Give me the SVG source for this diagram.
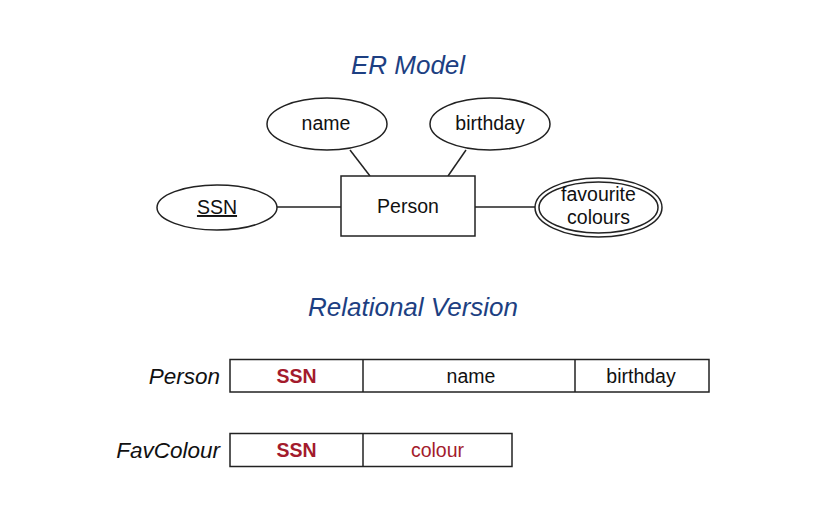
<svg xmlns="http://www.w3.org/2000/svg" width="818" height="508" viewBox="0 0 818 508">
<style>
.shape{fill:#fff;stroke:#222;stroke-width:1.5}
.conn line{stroke:#222;stroke-width:1.5}
.t{font-family:"Liberation Sans",Arial,sans-serif;font-size:19.5px;fill:#111;text-anchor:middle}
.title{font-family:"Liberation Sans",Arial,sans-serif;font-size:26px;font-style:italic;fill:#1d3f82;text-anchor:middle}
.rel{font-family:"Liberation Sans",Arial,sans-serif;font-size:22.5px;font-style:italic;fill:#111;text-anchor:end}
.key{font-weight:bold;fill:#a31b2c}
.red{fill:#a31b2c}
</style>
<rect width="818" height="508" fill="#fff"/>
<text class="title" x="408" y="74">ER Model</text>
<g class="conn">
<line x1="350" y1="150" x2="370" y2="176"/>
<line x1="466" y1="150" x2="448" y2="176"/>
<line x1="277" y1="207" x2="341" y2="207"/>
<line x1="475" y1="207" x2="535" y2="207"/>
</g>
<g id="name">
<ellipse class="shape" cx="327" cy="124" rx="60" ry="26"/>
<text class="t" x="326" y="130">name</text>
</g>
<g id="birthday">
<ellipse class="shape" cx="490" cy="124" rx="60" ry="26"/>
<text class="t" x="490" y="130">birthday</text>
</g>
<g id="person">
<rect class="shape" x="341" y="176" width="134" height="60"/>
<text class="t" x="408" y="213">Person</text>
</g>
<g id="ssn">
<ellipse class="shape" cx="217" cy="207.5" rx="60" ry="22.5"/>
<text class="t" x="217" y="214" text-decoration="underline">SSN</text>
</g>
<g id="favourite">
<ellipse class="shape" cx="598.5" cy="207.5" rx="63.5" ry="29.5"/>
<ellipse class="shape" cx="598.5" cy="207.5" rx="59.5" ry="25.5"/>
<text class="t" x="598.5" y="201" font-size="18.5">favourite</text>
<text class="t" x="598.5" y="224" font-size="18.5">colours</text>
</g>
<text class="title" x="413" y="316">Relational Version</text>
<g id="person-table">
<text class="rel" x="220" y="384">Person</text>
<rect class="shape" x="230" y="359.5" width="479" height="32.5"/>
<line x1="363" y1="359.5" x2="363" y2="392" stroke="#222" stroke-width="1.5"/>
<line x1="575" y1="359.5" x2="575" y2="392" stroke="#222" stroke-width="1.5"/>
<text class="t key" x="296.5" y="383">SSN</text>
<text class="t" x="471" y="383">name</text>
<text class="t" x="641" y="383">birthday</text>
</g>
<g id="favcolour-table">
<text class="rel" x="220" y="458">FavColour</text>
<rect class="shape" x="230" y="433.5" width="282" height="33"/>
<line x1="363" y1="433.5" x2="363" y2="466.5" stroke="#222" stroke-width="1.5"/>
<text class="t key" x="296.5" y="457">SSN</text>
<text class="t red" x="437.5" y="457">colour</text>
</g>
</svg>
